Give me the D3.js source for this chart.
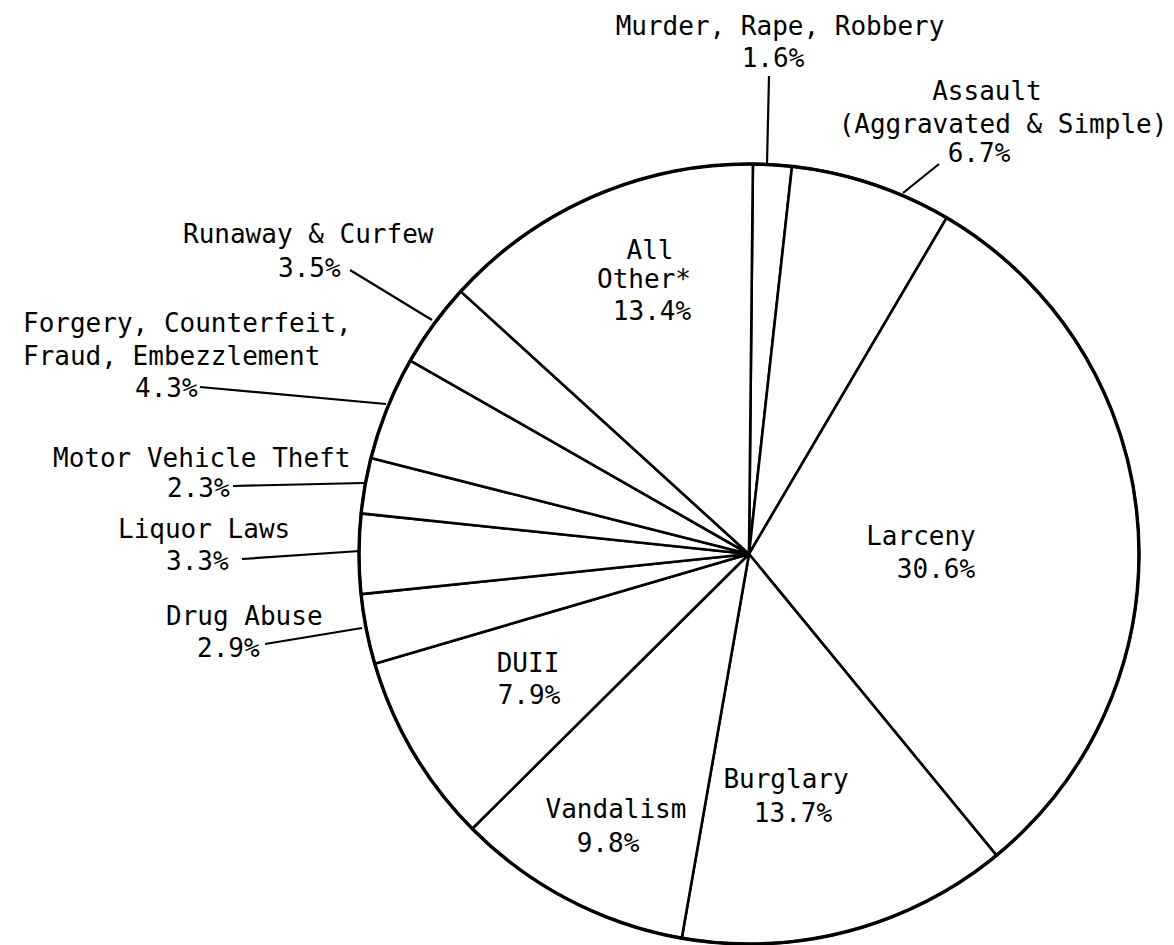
<!DOCTYPE html>
<html>
<head>
<meta charset="utf-8">
<script src="https://cdn.jsdelivr.net/npm/d3@7"></script>
<style>
  body { margin: 0; background: #fff; }
  svg text { font-family: "DejaVu Sans Mono", "Liberation Mono", monospace; font-size: 26px; fill: #000; }
</style>
</head>
<body>
<div id="chart"></div>
<script>
/* Data: slices clockwise from 12 o'clock */
var categories = ["Murder, Rape, Robbery", "Assault", "Larceny", "Burglary", "Vandalism", "DUII",
                  "Drug Abuse", "Liquor Laws", "Motor Vehicle Theft",
                  "Forgery, Counterfeit, Fraud, Embezzlement", "Runaway & Curfew", "All Other*"];
var percents = [1.6, 6.7, 30.6, 13.7, 9.8, 7.9, 2.9, 3.3, 2.3, 4.3, 3.5, 13.4];
// text lines shown for each slice (last line is the percent)
var labelLines = [
    ["Murder, Rape, Robbery"],
    ["Assault", "(Aggravated & Simple)"],
    ["Larceny"],
    ["Burglary"],
    ["Vandalism"],
    ["DUII"],
    ["Drug Abuse"],
    ["Liquor Laws"],
    ["Motor Vehicle Theft"],
    ["Forgery, Counterfeit,", "Fraud, Embezzlement"],
    ["Runaway & Curfew"],
    ["All", "Other*"]
];

/* Layout */
var width = 1174, height = 945;
var cx = 749, cy = 554, radius = 390;

// where each label line sits: [x, baseline] per line, anchor for the block
var labelSpots = [
    {anchor: "middle", pos: [[780, 35], [773, 67]], leader: [[769, 76], [767, 164]]},
    {anchor: "middle", pos: [[987, 100], [1003, 133], [979, 162]], leader: [[939, 164], [903, 193]]},
    {anchor: "middle", pos: [[921, 545], [936, 578]]},
    {anchor: "middle", pos: [[786, 788], [793, 822]]},
    {anchor: "middle", pos: [[616, 818], [608, 852]]},
    {anchor: "middle", pos: [[528, 672], [529, 704]]},
    {anchor: "start", pos: [[166, 625], [197, 657]], leader: [[265, 644], [362, 628]]},
    {anchor: "start", pos: [[118, 538], [166, 570]], leader: [[242, 559], [360, 551]]},
    {anchor: "start", pos: [[53, 467], [167, 497]], leader: [[233, 486], [364, 483]]},
    {anchor: "start", pos: [[23, 332], [23, 365], [135, 397]], leader: [[200, 387], [386, 404]]},
    {anchor: "start", pos: [[183, 243], [278, 277]], leader: [[350, 270], [432, 320]]},
    {anchor: "middle", pos: [[650, 259], [644, 288], [652, 320]]}
];

var svg = d3.select("#chart")
    .append("svg")
    .attr("width", width)
    .attr("height", height)
    .style("background", "#fff");

var slices = categories.map(function(c, i) {
    return {name: c, value: percents[i], lines: labelLines[i].concat([percents[i].toFixed(1) + "%"]), spot: labelSpots[i]};
});

var pie = d3.pie()
    .sort(null)
    .value(function(d) { return d.value; })
    .startAngle(0.01)
    .endAngle(0.01 + 2 * Math.PI);

var arc = d3.arc().innerRadius(0).outerRadius(radius);

var g = svg.append("g").attr("transform", "translate(" + cx + "," + cy + ")");

// slice wedges
g.selectAll("path.slice")
    .data(pie(slices))
    .enter()
    .append("path")
    .attr("class", "slice")
    .attr("d", arc)
    .attr("fill", "#fff")
    .attr("stroke", "#000")
    .attr("stroke-width", 2.6)
    .attr("stroke-linejoin", "round");

// heavier outline
g.append("circle")
    .attr("r", radius)
    .attr("fill", "none")
    .attr("stroke", "#000")
    .attr("stroke-width", 3.4);

// leader lines
svg.selectAll("line.leader")
    .data(slices.filter(function(d) { return d.spot.leader; }))
    .enter()
    .append("line")
    .attr("class", "leader")
    .attr("x1", function(d) { return d.spot.leader[0][0]; })
    .attr("y1", function(d) { return d.spot.leader[0][1]; })
    .attr("x2", function(d) { return d.spot.leader[1][0]; })
    .attr("y2", function(d) { return d.spot.leader[1][1]; })
    .attr("stroke", "#000")
    .attr("stroke-width", 2.2);

// labels
slices.forEach(function(d) {
    svg.selectAll(null)
        .data(d.lines)
        .enter()
        .append("text")
        .attr("x", function(t, i) { return d.spot.pos[i][0]; })
        .attr("y", function(t, i) { return d.spot.pos[i][1]; })
        .attr("text-anchor", d.spot.anchor)
        .text(function(t) { return t; });
});
</script>
</body>
</html>
